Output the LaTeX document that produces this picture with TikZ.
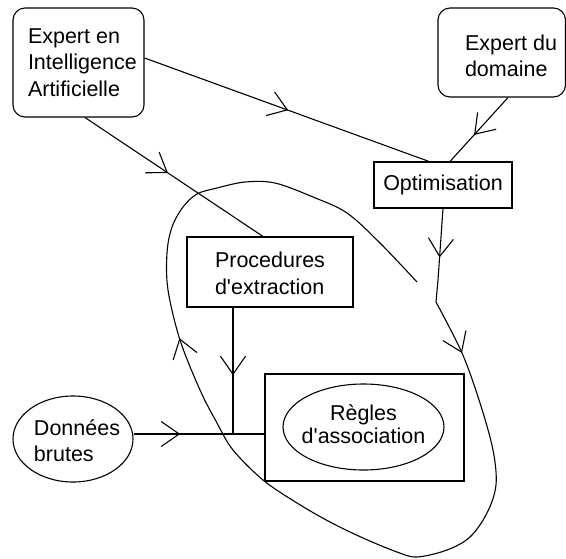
\documentclass[tikz,border=0pt]{standalone}
\usepackage{fontspec}
\setmainfont{Liberation Sans}[Ligatures={TeXOff,NoCommon}]
\usetikzlibrary{arrows.meta,decorations.markings,shapes.geometric}
\begin{document}
\begin{tikzpicture}[x=1pt,y=-1pt,line width=1.1pt,
  >={Straight Barb[length=18pt,width=25pt]},
  lbl/.style={font=\fontsize{21.5}{#1}\selectfont},
  lbl/.default=26.5,
  sqbox/.style={draw,rectangle,inner sep=0pt,lbl},
  rndbox/.style={sqbox,rounded corners=12pt},
  oval/.style={draw,ellipse,inner sep=0pt,lbl},
  midarrow/.style={postaction={decorate},decoration={markings,mark=at position #1 with {\arrow{>}}}},
  looparrows/.style={postaction={decorate},decoration={markings,
    mark=at position 49pt with {\arrow{>}},
    mark=at position 151pt with {\arrow{>}},
    mark=at position 745pt with {\arrow{>}}}}
]
\useasboundingbox (0,0) rectangle (566,558);

% nodes
\node[rndbox,minimum width=131pt,minimum height=109pt,align=left] (ia) at (78.5,62.5)
  {Expert en\\\makebox[101pt][l]{Intelligence}\\Artificielle};
\node[rndbox,minimum width=127.5pt,minimum height=89pt,align=left] (dom) at (501.75,52.5)
  {\rule{0pt}{22pt}\makebox[73.5pt][l]{Expert du}\\\makebox[73.5pt][l]{domaine}};
\node[sqbox,minimum width=138pt,minimum height=46pt] (opt) at (443,185) {Optimisation};
\node[sqbox,lbl=27,minimum width=166pt,minimum height=70pt,align=left] (proc) at (270,272)
  {\rule{0pt}{18pt}Procedures\\d'extraction};
\node[sqbox,minimum width=199pt,minimum height=107pt] (rbox) at (364.5,427.5) {};
\node[oval,lbl=23,minimum width=161pt,minimum height=86pt,align=center] (regles) at (363.5,427)
  {R\`egles\\\makebox[100pt][c]{d'association}\rule[-5pt]{0pt}{5pt}};
\node[oval,lbl=26,minimum width=120pt,minimum height=86pt,align=left] (don) at (73,439)
  {\rule{0pt}{20pt}\makebox[78pt][l]{Donn\'ees}\\brutes};

\coordinate (j) at (233,434);

% connectors
\draw[midarrow=0.505] ([yshift=4.5pt]ia.east) -- ([xshift=-14pt]opt.north);
\draw[midarrow=0.585] ([xshift=6.25pt]dom.south) -- ([xshift=7pt]opt.north);
\draw[midarrow=0.466] ([xshift=6.5pt]ia.south) -- ([xshift=-7pt]proc.north);
\draw[midarrow=0.535] (proc.south -| j) -- (j);
\draw[midarrow=0.356] (don.east |- j) -- (rbox.west |- j);

% feedback loop
\draw[looparrows] (opt.south) -- (438,280) -- (436,302) -- plot[smooth,tension=0.55] coordinates {
  (436,302) (462,353) (480,403) (493,450) (496,485) (487,513) (470,537) (447,550)
  (417,557) (397,552) (363,538) (330,522) (297,503) (263,480) (233,450) (217,423)
  (200,390) (180,340) (168,290) (167,253) (172,227) (183,207) (197,194) (217,188)
  (245,182) (275,183) (313,197) (347,213) (380,243) (417,282)};
\end{tikzpicture}
\end{document}
